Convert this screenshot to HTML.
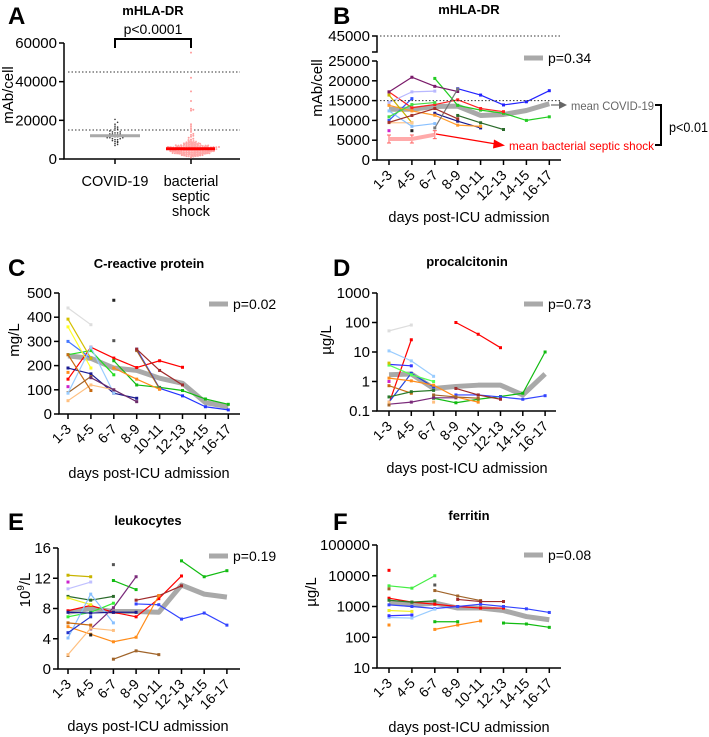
<!DOCTYPE html>
<html><head><meta charset="utf-8">
<style>
html,body{margin:0;padding:0;background:#fff;}
svg{display:block;font-family:"Liberation Sans",Arial,sans-serif;}
</style></head>
<body>
<svg id="fig" width="709" height="737" viewBox="0 0 709 737" xmlns="http://www.w3.org/2000/svg"></svg>
<script>
// ---------- data ----------
const cats = ['1-3','4-5','6-7','8-9','10-11','12-13','14-15','16-17'];
const N = null;
// Panel A
const covidVals = [7000,7500,8000,8500,9000,9000,9500,10000,10000,10500,10500,11000,11000,11000,11500,11500,12000,12000,12000,12000,12500,12500,13000,13000,13000,13500,13500,14000,14000,14500,15000,15500,16000,16500,17000,18000,19000,20500];
const septicVals = [800,1000,1200,1400,1500,1600,1800,1900,2000,2100,2200,2300,2400,2500,2500,2600,2700,2800,2900,3000,3000,3100,3200,3300,3400,3500,3500,3600,3700,3800,3900,4000,4000,4100,4200,4300,4400,4500,4500,4600,4700,4800,4900,5000,5000,5100,5200,5300,5400,5500,5500,5600,5700,5800,5900,6000,6000,6200,6400,6600,6800,7000,7000,7200,7500,7800,8000,8000,8300,8600,9000,9000,9500,10000,10500,11000,11500,12000,12500,13000,14000,15000,16000,17000,18000,25000,25500,26000,30000,35000,42000,55000,3000,3500,4000,4500,5000,2000,2500,3200,3800,4200,4800,5200,5800,6500,1500,2800,3600,4400,5300,6100,7400,2400,3300,4600,5600];
const covidMean = 12000, septicMean = 5300;
// Panel B mHLA-DR
const bMean = [12800,12800,13500,13600,11250,11500,12500,14200];
const bSepticMean = [5300,5300,6400,N,N,N,N,N];
const bSeries = [
 [10000,15500,N,N,N,N,N,N],
 [N,N,N,18000,16400,13900,14700,17500],
 [N,N,20600,13800,12600,11800,10000,10900],
 [17200,13200,14000,15200,13000,12200,N,N],
 [17200,20900,18600,17300,N,N,N,N],
 [14500,17200,17400,N,N,N,N,N],
 [N,N,N,11250,9400,7700,N,N],
 [N,N,11800,9800,8100,N,N,N],
 [13800,12400,11300,8800,8500,N,N,N],
 [N,N,8100,17900,N,N,N,N],
 [16400,9400,N,N,N,N,N,N],
 [9400,9400,N,N,N,N,N,N],
 [12400,8500,9200,N,N,N,N,N],
 [9500,11250,13000,10400,N,N,N,N],
 [10900,14000,14500,N,N,N,N,N],
 [7400,N,N,N,N,N,N,N],
 [N,7400,N,N,N,N,N,N]
];
const bColors = ['#3355ff','#2222ff','#22cc22','#ff2222','#7a1a6a','#b8b8ff','#2a6a2a','#1a1a90','#ff9a2a','#777777','#c8b400','#ffc890','#88c0ff','#a0302a','#44dd44','#cc22cc','#222222'];
// Panel C CRP
const cMean = [240,230,190,180,148,127,47,30];
const cSeries = [
 [144,276,231,192,220,193,N,N],
 [245,262,162,N,N,N,N,N],
 [N,N,220,120,110,97,62,40],
 [N,N,N,268,106,75,30,17],
 [300,230,N,N,N,N,N,N],
 [190,166,86,65,N,N,N,N],
 [88,155,N,262,104,N,N,N],
 [N,N,N,268,180,120,N,N],
 [392,230,N,N,N,N,N,N],
 [360,190,N,N,N,N,N,N],
 [438,369,N,N,N,N,N,N],
 [172,N,190,144,102,N,N,N],
 [55,120,100,N,N,N,N,N],
 [86,276,86,N,N,N,N,N],
 [N,150,100,51,N,N,N,N],
 [245,97,N,N,N,N,N,N],
 [113,N,N,N,N,N,N,N],
 [N,N,470,N,N,N,N,N],
 [N,N,303,N,N,N,N,N]
];
const cColors = ['#ff0000','#22dd22','#11bb11','#2233ff','#4477ff','#1a1a90','#a0642a','#a02a2a','#d4c000','#ffff22','#dddddd','#ff8c1a','#ffc080','#99ccff','#6a2a6a','#c86a10','#cc22cc','#222222','#555555'];
// Panel D procalcitonin
const dMean = [1.7,1.8,0.58,0.68,0.75,0.75,0.35,1.8];
const dSeries = [
 [0.18,26,N,100,40,14,N,N],
 [N,N,0.27,0.19,0.25,0.31,0.4,10],
 [N,N,N,0.35,0.35,0.3,0.25,0.33],
 [0.2,1.9,0.65,N,N,N,N,N],
 [3.8,3.4,N,N,N,N,N,N],
 [52,82,N,N,N,N,N,N],
 [10.9,5,1.5,N,N,N,N,N],
 [3.6,1.7,1.0,N,N,N,N,N],
 [1.3,1.05,0.75,0.3,0.2,N,N,N],
 [0.72,0.4,N,N,N,N,N,N],
 [0.3,0.45,0.5,N,N,N,N,N],
 [0.17,0.2,0.28,0.28,N,N,N,N],
 [0.16,N,0.35,0.3,0.27,N,N,N],
 [N,N,N,0.58,0.35,0.25,N,N],
 [0.2,N,0.2,N,N,N,N,N],
 [1.0,N,N,N,N,N,N,N],
 [4.2,N,N,N,N,N,N,N]
];
const dColors = ['#ff0000','#11bb11','#3344ff','#2244dd','#3333ff','#dddddd','#99ccff','#55ff55','#ff8c1a','#c86a10','#2a7a2a','#7a2a7a','#a0642a','#a02a2a','#ffc080','#cc22cc','#d4c000'];
// Panel E leukocytes
const eMean = [7.5,8.0,7.6,7.6,7.5,11.1,9.9,9.5];
const eSeries = [
 [N,N,11.7,10.5,N,14.3,12.2,13.0],
 [7.7,8.4,7.5,6.9,9.3,12.3,N,N],
 [N,N,N,8.6,8.5,6.6,7.4,5.8],
 [N,N,N,9.1,9.7,11.0,N,N],
 [5.6,4.6,3.6,4.2,9.7,N,N,N],
 [1.8,N,1.3,2.4,1.9,N,N,N],
 [12.4,12.2,N,N,N,N,N,N],
 [10.6,11.5,N,N,N,N,N,N],
 [9.6,9.1,9.6,N,N,N,N,N],
 [9.4,8.5,N,N,N,N,N,N],
 [6.9,7.5,8.7,N,N,N,N,N],
 [4.1,9.9,6.1,N,N,N,N,N],
 [4.8,6.9,N,N,N,N,N,N],
 [7.5,7.4,7.5,7.5,N,N,N,N],
 [N,5.3,8.1,12.2,N,N,N,N],
 [1.9,5.4,5.1,N,N,N,N,N],
 [6.1,5.8,N,N,N,N,N,N],
 [N,4.5,N,N,N,N,N,N],
 [N,N,13.8,N,N,N,N,N],
 [11.5,N,N,N,N,N,N,N]
];
const eColors = ['#11bb11','#ff0000','#3344ff','#a02a2a','#ff8c1a','#a0642a','#c8b400','#c0c0ff','#2a6a2a','#eeee22','#33ee33','#88c0ff','#2233cc','#1a1a90','#7a2a7a','#ffc080','#c86a10','#222222','#555555','#cc22cc'];
// Panel F ferritin
const fMean = [1390,1130,1290,890,890,740,470,370];
const fSeries = [
 [1860,1390,1190,1000,890,890,N,N],
 [1130,1000,860,1000,1190,1000,840,640],
 [N,N,320,320,N,290,270,210],
 [4700,3950,10000,N,N,N,N,N],
 [3750,N,3300,2200,1560,N,N,N],
 [N,N,N,1700,1450,1450,N,N],
 [250,N,180,250,340,N,N,N],
 [440,420,820,N,N,N,N,N],
 [500,530,N,N,N,N,N,N],
 [740,690,N,N,N,N,N,N],
 [1600,1390,1520,N,N,N,N,N],
 [15000,N,N,N,N,N,N,N],
 [N,N,5000,N,N,N,N,N]
];
const fColors = ['#ff0000','#3344ff','#11bb11','#44ee44','#a0642a','#a02a2a','#ff8c1a','#99ccff','#3333ff','#eeee22','#2a7a2a','#ff0000','#555555'];

// ---------- drawing ----------
const NS = 'http://www.w3.org/2000/svg';
const svg = document.getElementById('fig');
function mk(tag, attrs, parent){
  const el = document.createElementNS(NS, tag);
  for (const k in attrs) el.setAttribute(k, attrs[k]);
  (parent||svg).appendChild(el);
  return el;
}
function txt(x,y,s,size,opts,parent){
  const t = mk('text', Object.assign({x:x,y:y,'font-size':size,fill:'#000'},opts||{}), parent);
  t.textContent = s;
  return t;
}

function letter(x,y,s){
  const t = txt(x,y,s,24,{'font-weight':'bold'});
  
  
}
function title(x,y,s,name){
  const t = txt(x,y,s,13,{'font-weight':'bold','text-anchor':'middle'});
  
  
}
function yTitle(x,y,s,name){
  const t = txt(x,y,s,15,{'text-anchor':'middle',transform:'rotate(-90 '+x+' '+y+')'});
  
  
  return t;
}

function panel(p){
  const g = mk('g',{});
  
  
  const xOf = i => p.x0 + i*p.dx;
  const yOf = p.yOf;
  const ax = mk('path',{d:'M'+p.ax+' '+p.yTopAxis+' L'+p.ax+' '+p.yB+' L'+p.xEnd+' '+p.yB,stroke:'#000','stroke-width':1.5,fill:'none'},g);
  
  
  p.yTicks.forEach((v,i)=>{
    const y = yOf(v);
    mk('line',{x1:p.ax-5,x2:p.ax,y1:y,y2:y,stroke:'#000','stroke-width':1.5},g);
    const t = txt(p.ax-7,y+5,p.yTickLabels[i],15,{'text-anchor':'end'},g);
    
    
  });
  cats.forEach((c,i)=>{
    const x = xOf(i);
    mk('line',{x1:x,x2:x,y1:p.yB,y2:p.yB+5,stroke:'#000','stroke-width':1.5},g);
    const t = txt(x+4,p.yB+16,c,14,{'text-anchor':'end',transform:'rotate(-45 '+(x+4)+' '+(p.yB+16)+')'},g);
    
    
  });
  const xt = txt(p.xTitleX,p.xTitleY,'days post-ICU admission',14.5,{'text-anchor':'middle'},g);
  
  
  function polyline(vals,color,w,name){
    let segs=[], cur=[];
    vals.forEach((v,i)=>{ if(v===null){ if(cur.length) segs.push(cur); cur=[]; } else cur.push([xOf(i),yOf(v)]); });
    if(cur.length) segs.push(cur);
    segs.forEach(s=>{
      if(s.length>1){
        const l = mk('polyline',{points:s.map(q=>q.join(',')).join(' '),fill:'none',stroke:color,'stroke-width':w,'stroke-linejoin':'round'},g);
        
        
      }
    });
  }
  polyline(p.mean,'#a9a9a9',5,'mean-line');
  p.series.forEach((s,si)=>{
    polyline(s,p.colors[si],1.2,'patient-line');
    s.forEach((v,i)=>{
      if(v===null) return;
      const d = mk('rect',{x:xOf(i)-1.5,y:yOf(v)-1.5,width:3,height:3,fill:p.colors[si]},g);
      
      
    });
  });
  const lb = mk('line',{x1:p.legX,x2:p.legX+19,y1:p.legY,y2:p.legY,stroke:'#a9a9a9','stroke-width':5},g);
  
  
  const lt = txt(p.legX+24,p.legY+5,p.pText,14,{},g);
  
  
  return {g,xOf,yOf};
}

// ---------- Panel A ----------
letter(8,24,'A');
title(153,15,'mHLA-DR','panel-a-title');
(function(){
  const g = mk('g',{});
  
  
  const ax=64, yB=159, yT=43, xEnd=240;
  const yOf = v => yB - v/60000*(yB-yT);
  const a = mk('path',{d:'M'+ax+' '+yT+' L'+ax+' '+yB+' L'+xEnd+' '+yB,stroke:'#000','stroke-width':1.5,fill:'none'},g);
  
  
  [0,20000,40000,60000].forEach(v=>{
    const y=yOf(v);
    mk('line',{x1:ax-5,x2:ax,y1:y,y2:y,stroke:'#000','stroke-width':1.5},g);
    const t=txt(ax-7,y+5,String(v),15,{'text-anchor':'end'},g);
    
    
  });
  [45000,15000].forEach(v=>{
    const l=mk('line',{x1:68,x2:240,y1:yOf(v),y2:yOf(v),stroke:'#333','stroke-width':1,'stroke-dasharray':'1.5,2'},g);
    
    
  });
  [115,191].forEach(x=>mk('line',{x1:x,x2:x,y1:yB,y2:yB+5,stroke:'#000','stroke-width':1.5},g));
  function swarm(vals,x,color,r,step,binH){
    const bins={};
    vals.slice().sort((a,b)=>a-b).forEach(v=>{
      const y=yOf(v); const k=Math.round(y/binH);
      bins[k]=(bins[k]||0)+1;
      const n=bins[k]-1;
      const off=(n%2?1:-1)*Math.ceil(n/2)*step;
      const d=mk('circle',{cx:x+off,cy:y,r:r,fill:color},g);
      
      
    });
  }
  swarm(covidVals,115,'#333',0.8,2.6,2.2);
  swarm(septicVals,191,'#ff9d9d',1.0,2.3,2.2);
  swarm(septicVals.filter(v=>v<10000).map(v=>v+400),191,'#ffb0b0',1.0,2.5,2.0);
  swarm(septicVals.filter(v=>v<8000).map(v=>v+900),192,'#ffa5a5',1.0,2.7,2.0);
  const m1=mk('line',{x1:90,x2:140,y1:yOf(covidMean),y2:yOf(covidMean),stroke:'#a9a9a9','stroke-width':3},g);
  
  
  const m2=mk('line',{x1:166,x2:215,y1:yOf(septicMean),y2:yOf(septicMean),stroke:'#ff0000','stroke-width':3},g);
  
  
  const br=mk('path',{d:'M115 48 L115 39 L191 39 L191 48',stroke:'#000','stroke-width':2,fill:'none'},g);
  
  
  const pt=txt(153,34,'p<0.0001',14,{'text-anchor':'middle'},g);
  
  
  const l1=txt(115,186,'COVID-19',14.5,{'text-anchor':'middle'},g);
  
  
  ['bacterial','septic','shock'].forEach((s,i)=>{
    const t=txt(191,186+i*15,s,14.5,{'text-anchor':'middle'},g);
    
    
  });
})();
yTitle(13,95,'mAb/cell','panel-a-y-title');

// ---------- Panel B ----------
letter(333,24,'B');
title(469,14,'mHLA-DR','panel-b-title');
yTitle(322,88,'mAb/cell','panel-b-y-title');
const pb = panel({name:'panel-b',ax:377,yB:160,yTopAxis:61,x0:389,dx:22.9,xEnd:561,
  yOf:v=> v>25000 ? 36 : 160 - v/25000*99,
  yTicks:[0,5000,10000,15000,20000,25000],yTickLabels:['0','5000','10000','15000','20000','25000'],
  mean:bMean,series:bSeries,colors:bColors,legX:524,legY:58,pText:'p=0.34',xTitleX:469,xTitleY:222});
(function(){
  const g=pb.g;
  const br=mk('path',{d:'M372 36 L377 36 L377 52 L372 52',stroke:'#000','stroke-width':1.5,fill:'none'},g);
  
  
  const t=txt(370,41,'45000',15,{'text-anchor':'end'},g);
  
  
  [45000,15000].forEach(v=>{
    const l=mk('line',{x1:380,x2:560,y1:pb.yOf(v),y2:pb.yOf(v),stroke:'#333','stroke-width':1,'stroke-dasharray':'1.5,2'},g);
    
    
  });
  const pts=[];
  bSepticMean.forEach((v,i)=>{ if(v!==null){ pts.push([pb.xOf(i),pb.yOf(v)]);
    mk('line',{x1:pb.xOf(i),x2:pb.xOf(i),y1:pb.yOf(v)-4,y2:pb.yOf(v)+4,stroke:'#ff6060','stroke-width':1},g);
    mk('line',{x1:pb.xOf(i)-2,x2:pb.xOf(i)+2,y1:pb.yOf(v)-4,y2:pb.yOf(v)-4,stroke:'#ff6060','stroke-width':1},g);
    mk('line',{x1:pb.xOf(i)-2,x2:pb.xOf(i)+2,y1:pb.yOf(v)+4,y2:pb.yOf(v)+4,stroke:'#ff6060','stroke-width':1},g);
  }});
  const sm=mk('polyline',{points:pts.map(q=>q.join(',')).join(' '),fill:'none',stroke:'#ffaaaa','stroke-width':4},g);
  
  
  const a1=mk('path',{d:'M551 105 L560 105',stroke:'#666','stroke-width':1.2},g);
  
  
  mk('path',{d:'M559 101 L567 105 L559 109 Z',fill:'#666'},g);
  const t1=txt(571,110,'mean COVID-19',12,{fill:'#666',textLength:83,lengthAdjust:'spacingAndGlyphs'},g);
  
  
  const a2=mk('path',{d:'M436 134 L496 144',stroke:'#ff0000','stroke-width':1.2},g);
  
  
  mk('path',{d:'M494 139.5 L505 145.5 L493 148.5 Z',fill:'#ff0000'},g);
  const t2=txt(509,150,'mean bacterial septic shock',12,{fill:'#ff0000',textLength:145,lengthAdjust:'spacingAndGlyphs'},g);
  
  
  const b=mk('path',{d:'M655 105 L661 105 L661 145 L655 145',stroke:'#000','stroke-width':2,fill:'none'},g);
  
  
  const t3=txt(669,132,'p<0.01',14,{textLength:39,lengthAdjust:'spacingAndGlyphs'},g);
  
  
})();

// ---------- Panel C ----------
letter(8,276,'C');
title(149,268,'C-reactive protein','panel-c-title');
yTitle(19,340,'mg/L','panel-c-y-title');
panel({name:'panel-c',ax:59,yB:414,yTopAxis:293,x0:68,dx:22.9,xEnd:240,
  yOf:v=>414 - v/500*121,
  yTicks:[0,100,200,300,400,500],yTickLabels:['0','100','200','300','400','500'],
  mean:cMean,series:cSeries,colors:cColors,legX:209,legY:304,pText:'p=0.02',xTitleX:149,xTitleY:478});

// ---------- Panel D ----------
letter(333,276,'D');
title(467,266,'procalcitonin','panel-d-title');
yTitle(331,340,'µg/L','panel-d-y-title');
panel({name:'panel-d',ax:377,yB:411,yTopAxis:293,x0:389,dx:22.3,xEnd:556,
  yOf:v=>411 - (Math.log10(v)+1)/4*118,
  yTicks:[0.1,1,10,100,1000],yTickLabels:['0.1','1','10','100','1000'],
  mean:dMean,series:dSeries,colors:dColors,legX:524,legY:304,pText:'p=0.73',xTitleX:467,xTitleY:473});

// ---------- Panel E ----------
letter(8,530,'E');
title(148,525,'leukocytes','panel-e-title');
(function(){
  const t = txt(30,590,'',15,{'text-anchor':'middle',transform:'rotate(-90 30 590)'});
  
  
  const a=document.createElementNS(NS,'tspan'); a.textContent='10'; t.appendChild(a);
  const b=document.createElementNS(NS,'tspan'); b.setAttribute('dy','-6'); b.setAttribute('font-size','10'); b.textContent='9'; t.appendChild(b);
  const c=document.createElementNS(NS,'tspan'); c.setAttribute('dy','6'); c.textContent='/L'; t.appendChild(c);
})();
panel({name:'panel-e',ax:58,yB:669,yTopAxis:548,x0:68,dx:22.7,xEnd:240,
  yOf:v=>669 - v/16*121,
  yTicks:[0,4,8,12,16],yTickLabels:['0','4','8','12','16'],
  mean:eMean,series:eSeries,colors:eColors,legX:209,legY:556,pText:'p=0.19',xTitleX:148,xTitleY:731});

// ---------- Panel F ----------
letter(333,530,'F');
title(469,520,'ferritin','panel-f-title');
yTitle(316,592,'µg/L','panel-f-y-title');
panel({name:'panel-f',ax:377,yB:668,yTopAxis:545,x0:389,dx:22.9,xEnd:561,
  yOf:v=>668 - (Math.log10(v)-1)/4*123,
  yTicks:[10,100,1000,10000,100000],yTickLabels:['10','100','1000','10000','100000'],
  mean:fMean,series:fSeries,colors:fColors,legX:524,legY:555,pText:'p=0.08',xTitleX:469,xTitleY:732});
</script>
</body></html>
